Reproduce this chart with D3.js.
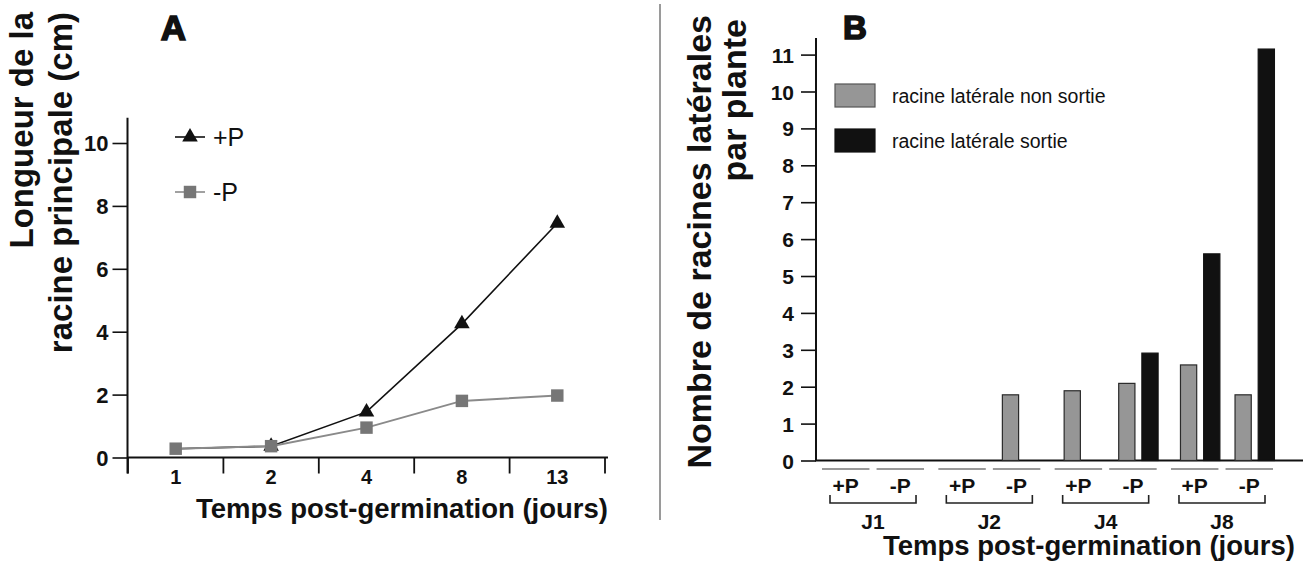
<!DOCTYPE html>
<html>
<head>
<meta charset="utf-8">
<script src="https://cdn.jsdelivr.net/npm/d3@7"></script>
<style>
  html, body { margin: 0; padding: 0; background: #fff; }
  svg { display: block; font-family: "Liberation Sans", Arial, Helvetica, sans-serif; }
</style>
</head>
<body>
<svg id="chart" width="1304" height="561"></svg>
<script>
// ---- Panel A data ----
const daysA = ["1", "2", "4", "8", "13"];
const lengthPlusP = [0.28, 0.36, 1.45, 4.25, 7.45];
const lengthMinusP = [0.28, 0.36, 0.95, 1.8, 1.97];
const ticksA = [0, 2, 4, 6, 8, 10];

// ---- Panel B data ----
const groupsB = ["J1", "J2", "J4", "J8"];
const treatmentsB = ["+P", "-P"];
const rootTypes = ["non sortie", "sortie"];
const nonSortie = [0, 0, 0, 1.78, 1.89, 2.09, 2.59, 1.78];
const sortie = [0, 0, 0, 0, 0, 2.91, 5.6, 11.15];
const ticksB = [0, 1, 2, 3, 4, 5, 6, 7, 8, 9, 10, 11];

const FONT = "Liberation Sans, Arial, sans-serif";
const svg = d3.select("#chart");

// ================= Panel A =================
const xA = d3.scaleBand().domain(daysA).range([128, 605]);
const yA = d3.scaleLinear().domain([0, 10]).range([457.5, 143]);
const gA = svg.append("g");

// y axis
const yAxisA = gA.append("g").attr("transform", "translate(127.5,0)")
  .call(d3.axisLeft(yA).tickValues(ticksA).tickSize(15).tickPadding(4).tickFormat(d3.format("d")));
yAxisA.select(".domain").remove();
yAxisA.selectAll("line").attr("stroke", "#111").attr("stroke-width", 1.6);
yAxisA.selectAll("text").style("font-size", "22px").style("font-weight", "bold").attr("fill", "#111")
  .style("font-family", FONT).attr("dy", "0.36em");
gA.append("line").attr("x1", 127.5).attr("x2", 127.5).attr("y1", yA(10.8)).attr("y2", yA(0) + 16)
  .attr("stroke", "#111").attr("stroke-width", 2);

// x axis (labels via axis, ticks at band edges)
const xAxisA = gA.append("g").attr("transform", `translate(0,${yA(0)})`)
  .call(d3.axisBottom(xA).tickSize(0).tickPadding(12));
xAxisA.select(".domain").remove();
xAxisA.selectAll("text").style("font-size", "20px").style("font-weight", "bold").attr("fill", "#111")
  .style("font-family", FONT);
gA.append("line").attr("x1", 127).attr("x2", xA.range()[1] + 3).attr("y1", yA(0)).attr("y2", yA(0))
  .attr("stroke", "#111").attr("stroke-width", 2);
const edgesA = daysA.map(d => xA(d)).concat([xA.range()[1]]);
gA.selectAll(".xtick").data(edgesA).join("line")
  .attr("x1", d => d).attr("x2", d => d).attr("y1", yA(0)).attr("y2", yA(0) + 16)
  .attr("stroke", "#111").attr("stroke-width", 1.8);

// lines
const cx = (i) => xA(daysA[i]) + xA.bandwidth() / 2;
const lineGen = d3.line().x((d, i) => cx(i)).y(d => yA(d));
gA.append("path").datum(lengthPlusP).attr("d", lineGen).attr("fill", "none")
  .attr("stroke", "#111").attr("stroke-width", 1.6);
gA.append("path").datum(lengthMinusP).attr("d", lineGen).attr("fill", "none")
  .attr("stroke", "#8a8a8a").attr("stroke-width", 2);
const tri = d3.symbol().type(d3.symbolTriangle).size(105);
const sq = d3.symbol().type(d3.symbolSquare).size(155);
gA.selectAll(".tri").data(lengthPlusP.slice(1)).join("path")
  .attr("d", tri).attr("transform", (d, i) => `translate(${cx(i + 1)},${yA(d)})`).attr("fill", "#111");
gA.selectAll(".sq").data(lengthMinusP).join("path")
  .attr("d", sq).attr("transform", (d, i) => `translate(${cx(i)},${yA(d)})`).attr("fill", "#767676");

// legend A
const legA = [{lab: "+P", y: 137, sym: tri, col: "#111", lc: "#111"}, {lab: "-P", y: 192, sym: sq, col: "#767676", lc: "#8a8a8a"}];
legA.forEach(l => {
  gA.append("line").attr("x1", 175).attr("x2", 205).attr("y1", l.y).attr("y2", l.y).attr("stroke", l.lc).attr("stroke-width", 1.6);
  gA.append("path").attr("d", l.sym).attr("transform", `translate(190,${l.y})`).attr("fill", l.col);
  gA.append("text").attr("x", 213).attr("y", l.y + 9).attr("font-size", 25).attr("fill", "#111").text(l.lab);
});

// titles A
gA.append("text").attr("x", 173.5).attr("y", 40).attr("text-anchor", "middle")
  .attr("font-size", 35).attr("font-weight", "bold").attr("stroke", "#111").attr("stroke-width", 1.6)
  .attr("fill", "#111").text("A");
gA.append("text").attr("x", 402).attr("y", 518).attr("text-anchor", "middle")
  .attr("font-size", 27.5).attr("font-weight", "bold").attr("fill", "#111").text("Temps post-germination (jours)");
gA.append("text").attr("transform", "translate(33,12) rotate(-90)").attr("text-anchor", "end")
  .attr("font-size", 33).attr("font-weight", "bold").attr("fill", "#111").text("Longueur de la");
gA.append("text").attr("transform", "translate(72,12) rotate(-90)").attr("text-anchor", "end")
  .attr("font-size", 33).attr("font-weight", "bold").attr("fill", "#111").text("racine principale (cm)");

// divider
svg.append("line").attr("x1", 660).attr("x2", 660).attr("y1", 4).attr("y2", 520)
  .attr("stroke", "#9a9a9a").attr("stroke-width", 2);

// ================= Panel B =================
const gB = svg.append("g");
const yB = d3.scaleLinear().domain([0, 11]).range([460.5, 54.6]);
const x0 = d3.scaleBand().domain(groupsB).range([822, 1273]).paddingInner(0.123);
const x1 = d3.scaleBand().domain(treatmentsB).range([0, x0.bandwidth()]).paddingInner(0.13);
const x2 = d3.scaleBand().domain(rootTypes)
  .range([0.2 * x1.bandwidth(), 1.03 * x1.bandwidth()]).paddingInner(0.3);

const yAxisB = gB.append("g").attr("transform", "translate(816,0)")
  .call(d3.axisLeft(yB).tickValues(ticksB).tickSize(15).tickPadding(7).tickFormat(d3.format("d")));
yAxisB.select(".domain").remove();
yAxisB.selectAll("line").attr("stroke", "#111").attr("stroke-width", 1.6);
yAxisB.selectAll("text").style("font-size", "21px").attr("fill", "#111").style("font-weight", "bold")
  .style("font-family", FONT).attr("dy", "0.36em");
gB.append("line").attr("x1", 816).attr("x2", 816).attr("y1", yB(11.45)).attr("y2", yB(0))
  .attr("stroke", "#111").attr("stroke-width", 2);
gB.append("line").attr("x1", 815).attr("x2", 1303).attr("y1", yB(0)).attr("y2", yB(0))
  .attr("stroke", "#111").attr("stroke-width", 2);

// bar data table built from arrays
const cells = [];
groupsB.forEach((g, gi) => treatmentsB.forEach((t, ti) => {
  const k = gi * 2 + ti;
  cells.push({g, t, type: "non sortie", v: nonSortie[k]});
  cells.push({g, t, type: "sortie", v: sortie[k]});
}));
gB.selectAll(".bar").data(cells.filter(d => d.v > 0)).join("rect")
  .attr("x", d => x0(d.g) + x1(d.t) + x2(d.type))
  .attr("width", x2.bandwidth())
  .attr("y", d => yB(d.v))
  .attr("height", d => yB(0) - yB(d.v))
  .attr("fill", d => d.type === "sortie" ? "#111" : "#969696")
  .attr("stroke", d => d.type === "sortie" ? "#111" : "#2a2a2a")
  .attr("stroke-width", 1.2);

// treatment slots: grey segments + labels
const slots = [];
groupsB.forEach(g => treatmentsB.forEach(t => slots.push({g, t})));
gB.selectAll(".seg").data(slots).join("line")
  .attr("x1", d => x0(d.g) + x1(d.t)).attr("x2", d => x0(d.g) + x1(d.t) + x1.bandwidth())
  .attr("y1", 469).attr("y2", 469).attr("stroke", "#9a9a9a").attr("stroke-width", 2);
gB.selectAll(".tlab").data(slots).join("text")
  .attr("x", d => x0(d.g) + x1(d.t) + x1.bandwidth() / 2).attr("y", 492.5)
  .attr("text-anchor", "middle").attr("font-size", 21).attr("font-weight", "bold").attr("fill", "#111")
  .text(d => d.t);

// brackets + group labels
groupsB.forEach(g => {
  const a = x0(g) + 8, b = x0(g) + x0.bandwidth() - 8;
  gB.append("path").attr("d", `M${a},495V503H${b}V495`).attr("fill", "none")
    .attr("stroke", "#222").attr("stroke-width", 1.6);
  gB.append("text").attr("x", x0(g) + x0.bandwidth() / 2).attr("y", 528.5).attr("text-anchor", "middle")
    .attr("font-size", 21).attr("font-weight", "bold").attr("fill", "#111").text(g);
});

// legend B
const legB = [{lab: "racine latérale non sortie", y: 84, fill: "#969696", stroke: "#555"},
              {lab: "racine latérale sortie", y: 129, fill: "#111", stroke: "#111"}];
legB.forEach(l => {
  gB.append("rect").attr("x", 835).attr("y", l.y).attr("width", 40).attr("height", 23)
    .attr("fill", l.fill).attr("stroke", l.stroke).attr("stroke-width", 1.2);
  gB.append("text").attr("x", 892).attr("y", l.y + 19).attr("font-size", 19.5).attr("fill", "#111").text(l.lab);
});

// titles B
gB.append("text").attr("x", 855).attr("y", 39).attr("text-anchor", "middle")
  .attr("font-size", 33).attr("font-weight", "bold").attr("stroke", "#111").attr("stroke-width", 1.6)
  .attr("fill", "#111").text("B");
gB.append("text").attr("x", 1089).attr("y", 555).attr("text-anchor", "middle")
  .attr("font-size", 27.5).attr("font-weight", "bold").attr("fill", "#111").text("Temps post-germination (jours)");
gB.append("text").attr("transform", "translate(711,15) rotate(-90)").attr("text-anchor", "end")
  .attr("font-size", 34).attr("font-weight", "bold").attr("fill", "#111").text("Nombre de racines latérales");
gB.append("text").attr("transform", "translate(746,19) rotate(-90)").attr("text-anchor", "end")
  .attr("font-size", 34).attr("font-weight", "bold").attr("fill", "#111").text("par plante");
</script>
</body>
</html>
